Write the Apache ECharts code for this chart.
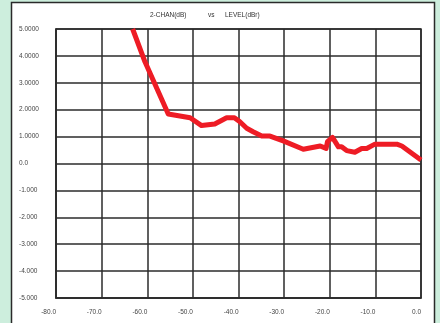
<!DOCTYPE html>
<html>
<head>
<meta charset="utf-8">
<script src="https://cdn.jsdelivr.net/npm/echarts@6/dist/echarts.min.js"></script>
<style>
  html, body { margin: 0; padding: 0; background: #cdeedd; }
  #chart { width: 440px; height: 323px; }
</style>
</head>
<body>
<div id="chart"></div>
<script>
// 2-channel level (dB) measured against input level (dBr)
const levelDbr = [-63.2, -60.5, -55.4, -50.6, -48.1, -45.2, -42.6, -40.9, -39.7, -38.2, -36.8,
  -34.9, -33.1, -30.2, -25.8, -22.1, -20.8, -20.5, -19.4, -18.1, -17.4, -16.3, -14.5,
  -13.0, -11.9, -10.1, -5.3, -4.2, 0.0];
const chanDb = [5.0, 3.78, 1.84, 1.70, 1.41, 1.47, 1.70, 1.70, 1.55, 1.31, 1.18,
  1.02, 1.02, 0.84, 0.53, 0.65, 0.56, 0.81, 0.97, 0.62, 0.62, 0.48, 0.42,
  0.56, 0.56, 0.72, 0.72, 0.65, 0.13];

const xTickLabels = ['-80.0', '-70.0', '-60.0', '-50.0', '-40.0', '-30.0', '-20.0', '-10.0', '0.0'];
const yTickLabels = ['-5.000', '-4.000', '-3.000', '-2.000', '-1.000', '0.0',
  '1.0000', '2.0000', '3.0000', '4.0000', '5.0000'];

const chart = echarts.init(document.getElementById('chart'), null, { renderer: 'canvas' });
const font = 'Liberation Sans, Arial, sans-serif';
const gridColor = '#2b2b2b';

chart.setOption({
  backgroundColor: '#cdeedd',
  animation: false,
  graphic: [
    {
      type: 'rect',
      shape: { x: 11.5, y: 2.5, width: 423, height: 330 },
      style: { fill: '#ffffff', stroke: '#2a2a2a', lineWidth: 1.5 },
      z: -10
    },
    {
      type: 'text',
      left: 150, top: 12,
      style: { text: '2-CHAN(dB)', fontSize: 6.5, fontFamily: font, fill: '#333' }
    },
    {
      type: 'text',
      left: 208, top: 12,
      style: { text: 'vs', fontSize: 6.5, fontFamily: font, fill: '#333' }
    },
    {
      type: 'text',
      left: 225, top: 12,
      style: { text: 'LEVEL(dBr)', fontSize: 6.5, fontFamily: font, fill: '#333' }
    }
  ],
  grid: {
    left: 56, right: 19, top: 29, bottom: 25,
    show: true, borderColor: gridColor, borderWidth: 1.5, backgroundColor: 'transparent'
  },
  xAxis: {
    type: 'value', min: -80, max: 0, interval: 10,
    axisLine: { show: true, onZero: false, lineStyle: { color: gridColor, width: 1.5 } },
    axisTick: { show: false },
    splitLine: { show: true, lineStyle: { color: gridColor, width: 1.5 } },
    axisLabel: {
      fontSize: 6.5, fontFamily: font, color: '#444', margin: 11, align: 'right',
      formatter: (v) => xTickLabels[Math.round((v + 80) / 10)]
    }
  },
  yAxis: {
    type: 'value', min: -5, max: 5, interval: 1,
    axisLine: { show: true, onZero: false, lineStyle: { color: gridColor, width: 1.5 } },
    axisTick: { show: false },
    splitLine: { show: true, lineStyle: { color: gridColor, width: 1.5 } },
    axisLabel: {
      fontSize: 6.5, fontFamily: font, color: '#444', margin: 37, align: 'left',
      formatter: (v) => yTickLabels[Math.round(v + 5)]
    }
  },
  series: [{
    type: 'line',
    data: levelDbr.map((x, i) => [x, chanDb[i]]),
    showSymbol: false,
    clip: true,
    lineStyle: { color: '#ee1c25', width: 5, join: 'round' },
    z: 5
  }]
});
</script>
</body>
</html>
